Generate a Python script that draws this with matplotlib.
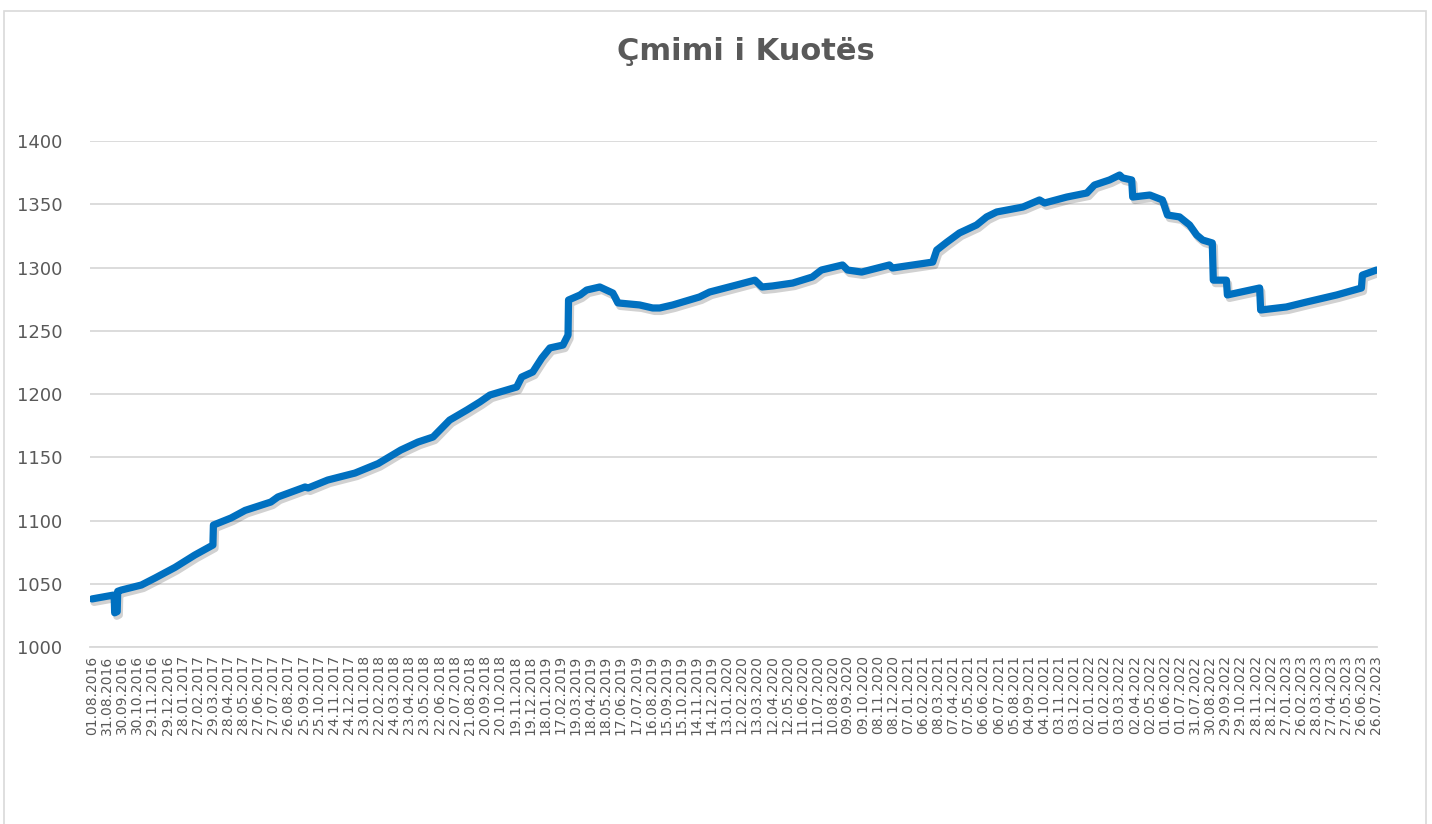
import matplotlib
matplotlib.use("Agg")
import matplotlib.pyplot as plt
import matplotlib.patheffects as pe
from matplotlib.patches import Rectangle
import pandas as pd

title = "Çmimi i Kuotës"

dates = [
    "2016-08-01", "2016-09-12", "2016-09-14", "2016-09-15", "2016-09-20", "2016-09-21",
    "2016-09-28", "2016-11-07", "2016-12-04", "2017-01-13", "2017-02-21", "2017-03-29",
    "2017-03-30", "2017-05-04", "2017-06-01", "2017-07-22", "2017-08-05", "2017-09-28",
    "2017-10-04", "2017-11-12", "2018-01-05", "2018-02-20", "2018-04-06", "2018-05-10",
    "2018-06-09", "2018-07-12", "2018-08-15", "2018-09-10", "2018-09-30", "2018-10-20",
    "2018-11-22", "2018-12-02", "2018-12-24", "2019-01-11", "2019-01-27", "2019-02-22",
    "2019-03-04", "2019-03-05", "2019-03-28", "2019-04-10", "2019-05-06", "2019-06-01",
    "2019-06-11", "2019-07-24", "2019-08-19", "2019-09-02", "2019-09-28", "2019-11-20",
    "2019-12-10", "2020-02-02", "2020-03-09", "2020-03-23", "2020-04-13", "2020-05-23",
    "2020-07-01", "2020-07-19", "2020-08-30", "2020-09-09", "2020-10-07", "2020-12-01",
    "2020-12-07", "2021-02-25", "2021-03-05", "2021-03-25", "2021-04-19", "2021-05-23",
    "2021-06-12", "2021-07-02", "2021-08-23", "2021-09-25", "2021-10-05", "2021-11-18",
    "2021-12-28", "2022-01-12", "2022-02-11", "2022-03-03", "2022-03-09", "2022-03-27",
    "2022-03-29", "2022-05-02", "2022-05-27", "2022-06-06", "2022-06-30", "2022-07-20",
    "2022-08-03", "2022-08-15", "2022-09-03", "2022-09-05", "2022-10-01", "2022-10-03",
    "2022-12-06", "2022-12-08", "2023-01-28", "2023-03-09", "2023-05-08", "2023-06-26",
    "2023-06-28", "2023-07-26",
]
values = [
    1038.0, 1041.0, 1040.0, 1027.0, 1028.0, 1044.0,
    1045.0, 1049.0, 1054.5, 1063.0, 1072.7, 1080.6,
    1096.4, 1102.0, 1108.0, 1114.6, 1118.6, 1126.5,
    1125.7, 1132.0, 1137.5, 1145.0, 1155.7, 1162.0,
    1166.0, 1179.4, 1187.3, 1193.7, 1199.2, 1201.6,
    1205.5, 1213.4, 1217.4, 1228.5, 1236.4, 1238.7,
    1246.6, 1274.3, 1278.3, 1282.2, 1284.6, 1279.8,
    1272.0, 1270.4, 1268.0, 1268.0, 1270.4, 1276.7,
    1280.6, 1286.2, 1290.0, 1284.6, 1285.4, 1287.7,
    1292.5, 1298.0, 1302.0, 1298.0, 1296.4, 1302.0,
    1299.6, 1304.3, 1313.8, 1320.0, 1327.3, 1333.6,
    1340.0, 1343.9, 1347.8, 1353.4, 1351.0, 1355.7,
    1358.9, 1365.2, 1369.2, 1373.1, 1370.8, 1369.2,
    1355.7, 1357.3, 1353.4, 1341.5, 1340.0, 1333.6,
    1325.7, 1321.7, 1319.4, 1290.0, 1290.0, 1278.3,
    1283.8, 1266.4, 1268.8, 1272.7, 1278.3, 1283.8,
    1294.0, 1298.0,
]

y_ticks = [1000, 1050, 1100, 1150, 1200, 1250, 1300, 1350, 1400]
x_start = "2016-08-01"
x_end = "2023-07-26"
tick_step_days = 30

W, H = 1432, 824
fig = plt.figure(figsize=(W / 100, H / 100), dpi=100)
fig.patch.set_facecolor("white")

# chart border
fig.patches.append(Rectangle((4 / W, -0.05), (1426 - 4) / W, 1.05 - 11 / H,
                             transform=fig.transFigure, fill=False,
                             edgecolor="#d9d9d9", linewidth=1.2))

ax = fig.add_axes([90 / W, 1 - 647 / H, (1377 - 90) / W, (647 - 141) / H])
d = pd.to_datetime(dates)
line, = ax.plot(d, values, color="#0070C0", linewidth=5.2,
                solid_joinstyle="round", solid_capstyle="round", zorder=3)
line.set_path_effects([pe.SimpleLineShadow(offset=(1.5, -2.5), shadow_color="#000000", alpha=0.18),
                       pe.Normal()])

ax.set_ylim(1000, 1400)
ax.set_yticks(y_ticks)
x0 = pd.Timestamp(x_start)
x1 = pd.Timestamp(x_end)
ax.set_xlim(x0 - pd.Timedelta(days=4), x1 + pd.Timedelta(days=1))
ticks = pd.date_range(x0, x1, freq=f"{tick_step_days}D")
ax.set_xticks(ticks)
ax.set_xticklabels([t.strftime("%d.%m.%Y") for t in ticks], rotation=90,
                   fontsize=10, color="#595959")
ax.tick_params(axis="y", labelsize=13, labelcolor="#595959", length=0, pad=20)
ax.tick_params(axis="x", length=0, pad=6)

ax.grid(axis="y", color="#d9d9d9", linewidth=1.3)
ax.set_axisbelow(True)
for s in ["top", "right", "left"]:
    ax.spines[s].set_visible(False)
ax.spines["bottom"].set_color("#d9d9d9")
ax.spines["bottom"].set_linewidth(1.3)

fig.text(746 / W, 1 - 52 / H, title, ha="center", va="center",
         fontsize=22, fontweight="bold", color="#595959")

fig.savefig("out.png", dpi=100)
